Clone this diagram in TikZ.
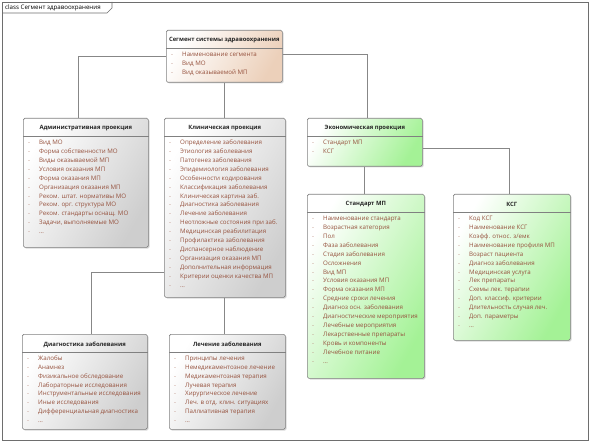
\documentclass[tikz,border=0pt]{standalone}
\usepackage{fontspec}
\setmainfont{Open Sans}
\usetikzlibrary{calc, shadows}
\definecolor{edgegray}{RGB}{128,128,128}
\definecolor{attrbrown}{RGB}{150,82,62}
\definecolor{peach}{RGB}{236,208,186}
\definecolor{boxgray}{RGB}{206,206,206}
\definecolor{boxgreen}{RGB}{164,242,150}
\definecolor{linkgray}{RGB}{135,135,135}
\definecolor{framegray}{RGB}{110,110,110}

\tikzset{
  umlclass/.style={draw=edgegray, line width=0.6bp, rounded corners=1.5bp, anchor=north west,
    inner sep=0pt, drop shadow={shadow xshift=1.2bp, shadow yshift=-1.2bp, opacity=0.3}},
  peachfill/.style={left color=white, right color=peach, shading angle=60},
  grayfill/.style={left color=white, right color=boxgray, shading angle=60},
  greenfill/.style={left color=white, right color=boxgreen, shading angle=60},
  umltitle/.style={font=\fontsize{5.9}{7}\selectfont\bfseries, text=black!85, inner sep=0pt},
  umlattr/.style={font=\fontsize{6.2}{7}\selectfont, text=attrbrown, anchor=west, inner sep=0pt,
    text height=4.6bp, text depth=1.3bp},
  umldash/.style={umlattr, text=attrbrown!70},
  divider/.style={draw=edgegray, line width=0.6bp},
  link/.style={draw=linkgray, line width=0.7bp}
}

\begin{document}
\begin{tikzpicture}[x=1bp, y=-1bp]
  \useasboundingbox (0,0) rectangle (591,443);

  % рамка диаграммы
  \draw[framegray, line width=0.7bp] (2,2) rectangle (588,440);
  \draw[framegray, line width=0.7bp] (2,13) -- (107,13) -- (112,8) -- (112,2);
  \node[font=\fontsize{6.2}{7}\selectfont, anchor=west, inner sep=0pt] (frameT) at (5,7.5) {class Сегмент здравоохранения};

  % Сегмент системы здравоохранения
  \node[umlclass, peachfill, minimum width=116bp, minimum height=52bp] (seg) at (166,30) {};
  \node[umltitle] (segT) at ($(seg.north)+(0,10.5)$) {Сегмент системы здравоохранения};
  \draw[divider] ($(seg.north west)+(0,18.7)$) -- ($(seg.north east)+(0,18.7)$);
  \foreach \a [count=\i] in {Наименование сегмента, Вид МО, Вид оказываемой МП} {
    \node[umldash] at ($(seg.north west)+(5,{25+(\i-1)*8.9})$) {-};
    \node[umlattr] at ($(seg.north west)+(16,{25+(\i-1)*8.9})$) {\a};
  }

  % Административная проекция
  \node[umlclass, grayfill, minimum width=125bp, minimum height=129bp] (adm) at (23,118) {};
  \node[umltitle] (admT) at ($(adm.north)+(0,10.5)$) {Административная проекция};
  \draw[divider] ($(adm.north west)+(0,18.7)$) -- ($(adm.north east)+(0,18.7)$);
  \foreach \a [count=\i] in {Вид МО, Форма собственности МО, Виды оказываемой МП, Условия оказания МП,
      Форма оказания МП, Организация оказания МП, Реком. штат. нормативы МО, Реком. орг. структура МО,
      Реком. стандарты оснащ. МО, {Задачи, выполняемые МО}, {\dots}} {
    \node[umldash] at ($(adm.north west)+(5,{25+(\i-1)*8.9})$) {-};
    \node[umlattr] at ($(adm.north west)+(16,{25+(\i-1)*8.9})$) {\a};
  }

  % Клиническая проекция
  \node[umlclass, grayfill, minimum width=121bp, minimum height=179bp] (clin) at (164,118) {};
  \node[umltitle] (clinT) at ($(clin.north)+(0,10.5)$) {Клиническая проекция};
  \draw[divider] ($(clin.north west)+(0,18.7)$) -- ($(clin.north east)+(0,18.7)$);
  \foreach \a [count=\i] in {Определение заболевания, Этиология заболевания, Патогенез заболевания,
      Эпидемиология заболевания, Особенности кодирования, Классификация заболевания,
      Клиническая картина заб., Диагностика заболевания, Лечение заболевания,
      Неотложные состояния при заб., Медицинская реабилитация, Профилактика заболевания,
      Диспансерное наблюдение, Организация оказания МП, Дополнительная информация,
      Критерии оценки качества МП, {\dots}} {
    \node[umldash] at ($(clin.north west)+(5,{25+(\i-1)*8.9})$) {-};
    \node[umlattr] at ($(clin.north west)+(16,{25+(\i-1)*8.9})$) {\a};
  }

  % Экономическая проекция
  \node[umlclass, greenfill, minimum width=115bp, minimum height=48bp] (econ) at (307,118) {};
  \node[umltitle] (econT) at ($(econ.north)+(0,10.5)$) {Экономическая проекция};
  \draw[divider] ($(econ.north west)+(0,18.7)$) -- ($(econ.north east)+(0,18.7)$);
  \foreach \a [count=\i] in {Стандарт МП, КСГ} {
    \node[umldash] at ($(econ.north west)+(5,{25+(\i-1)*8.9})$) {-};
    \node[umlattr] at ($(econ.north west)+(16,{25+(\i-1)*8.9})$) {\a};
  }

  % Стандарт МП
  \node[umlclass, greenfill, minimum width=117bp, minimum height=184bp] (std) at (307,194) {};
  \node[umltitle] (stdT) at ($(std.north)+(0,10.5)$) {Стандарт МП};
  \draw[divider] ($(std.north west)+(0,18.7)$) -- ($(std.north east)+(0,18.7)$);
  \foreach \a [count=\i] in {Наименование стандарта, Возрастная категория, Пол, Фаза заболевания,
      Стадия заболевания, Осложнения, Вид МП, Условия оказания МП, Форма оказания МП,
      Средние сроки лечения, Диагноз осн. заболевания, Диагностические мероприятия,
      Лечебные мероприятия, Лекарственные препараты, Кровь и компоненты, Лечебное питание, {\dots}} {
    \node[umldash] at ($(std.north west)+(5,{25+(\i-1)*8.9})$) {-};
    \node[umlattr] at ($(std.north west)+(16,{25+(\i-1)*8.9})$) {\a};
  }

  % КСГ
  \node[umlclass, greenfill, minimum width=117bp, minimum height=146bp] (ksg) at (453,194) {};
  \node[umltitle] (ksgT) at ($(ksg.north)+(0,10.5)$) {КСГ};
  \draw[divider] ($(ksg.north west)+(0,18.7)$) -- ($(ksg.north east)+(0,18.7)$);
  \foreach \a [count=\i] in {Код КСГ, Наименование КСГ, Коэфф. относ. з/емк, Наименование профиля МП,
      Возраст пациента, Диагноз заболевания, Медицинская услуга, Лек препараты, Схемы лек. терапии,
      Доп. классиф. критерии, Длительность случая леч., Доп. параметры, {\dots}} {
    \node[umldash] at ($(ksg.north west)+(5,{25+(\i-1)*8.9})$) {-};
    \node[umlattr] at ($(ksg.north west)+(16,{25+(\i-1)*8.9})$) {\a};
  }

  % Диагностика заболевания
  \node[umlclass, grayfill, minimum width=125bp, minimum height=95bp] (diag) at (22,334) {};
  \node[umltitle] (diagT) at ($(diag.north)+(0,10.5)$) {Диагностика заболевания};
  \draw[divider] ($(diag.north west)+(0,18.7)$) -- ($(diag.north east)+(0,18.7)$);
  \foreach \a [count=\i] in {Жалобы, Анамнез, Физикальное обследование, Лабораторные исследования,
      Инструментальные исследования, Иные исследования, Дифференциальная диагностика, {\dots}} {
    \node[umldash] at ($(diag.north west)+(5,{25+(\i-1)*8.8})$) {-};
    \node[umlattr] at ($(diag.north west)+(16,{25+(\i-1)*8.8})$) {\a};
  }

  % Лечение заболевания
  \node[umlclass, grayfill, minimum width=116bp, minimum height=95bp] (treat) at (169,334) {};
  \node[umltitle] (treatT) at ($(treat.north)+(0,10.5)$) {Лечение заболевания};
  \draw[divider] ($(treat.north west)+(0,18.7)$) -- ($(treat.north east)+(0,18.7)$);
  \foreach \a [count=\i] in {Принципы лечения, Немедикаментозное лечение, Медикаментозная терапия,
      Лучевая терапия, Хирургическое лечение, {Леч. в отд. клин. ситуациях}, Паллиативная терапия, {\dots}} {
    \node[umldash] at ($(treat.north west)+(5,{25+(\i-1)*8.8})$) {-};
    \node[umlattr] at ($(treat.north west)+(16,{25+(\i-1)*8.8})$) {\a};
  }

  % связи
  \draw[link] ([yshift=-26bp]seg.north west) -| ([xshift=-7.5bp]adm.north);
  \draw[link] (seg.south) -- (seg.south |- clin.north);
  \draw[link] ([yshift=-24bp]seg.north east) -| ([xshift=2.5bp]econ.north);
  \draw[link] (econ.south) -- (econ.south |- std.north);
  \draw[link] ([yshift=-30bp]econ.north east) -| ([xshift=-2.5bp]ksg.north);
  \draw[link] ([yshift=-154bp]clin.north west) -| ([xshift=6.5bp]diag.north);
  \draw[link] (clin.south) -- (clin.south |- treat.north);
\end{tikzpicture}
\end{document}
